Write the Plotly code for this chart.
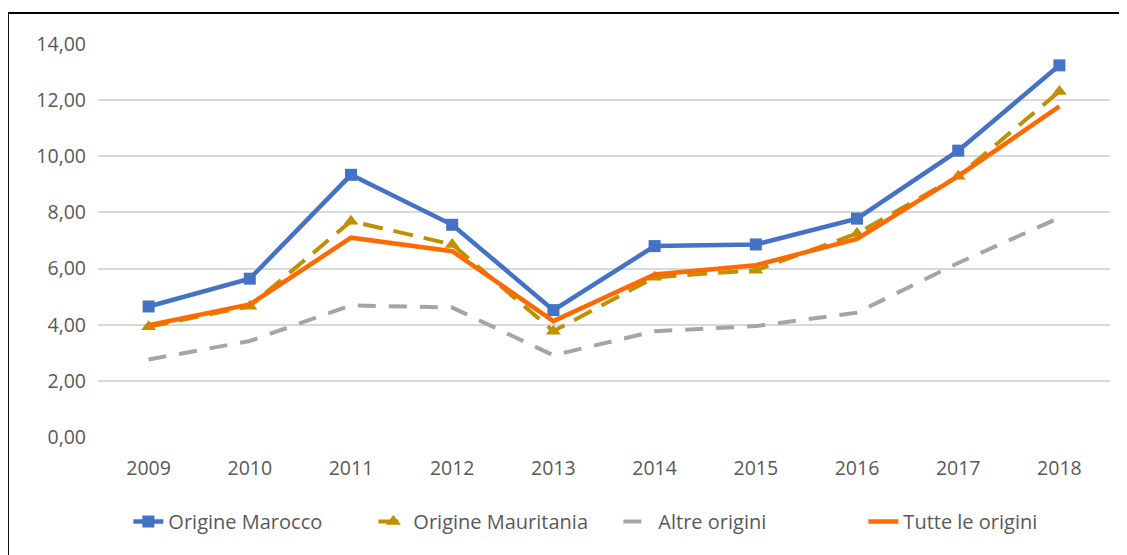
import plotly.graph_objects as go

years = ["2009", "2010", "2011", "2012", "2013", "2014", "2015", "2016", "2017", "2018"]
marocco = [4.65, 5.64, 9.34, 7.56, 4.52, 6.80, 6.86, 7.78, 10.20, 13.24]
mauritania = [3.93, 4.66, 7.69, 6.86, 3.77, 5.69, 5.94, 7.25, 9.29, 12.31]
altre = [2.76, 3.42, 4.69, 4.61, 2.91, 3.77, 3.95, 4.43, 6.20, 7.81]
tutte = [3.98, 4.72, 7.10, 6.62, 4.13, 5.79, 6.12, 7.06, 9.29, 11.78]
y_ticks = [0, 2, 4, 6, 8, 10, 12, 14]
y_tick_labels = ["0,00", "2,00", "4,00", "6,00", "8,00", "10,00", "12,00", "14,00"]

fig = go.Figure()
fig.add_trace(go.Scatter(x=years, y=marocco, name="Origine Marocco", mode="lines+markers",
                         line=dict(color="#4472C4", width=4.5),
                         marker=dict(symbol="square", size=12, color="#4472C4")))
fig.add_trace(go.Scatter(x=years, y=mauritania, name="Origine Mauritania", mode="lines+markers",
                         line=dict(color="#BF9000", width=4, dash="20px,11px"),
                         marker=dict(symbol="triangle-up", size=13, color="#BF9000")))
fig.add_trace(go.Scatter(x=years, y=altre, name="Altre origini", mode="lines",
                         line=dict(color="#A5A5A5", width=4, dash="18px,13px")))
fig.add_trace(go.Scatter(x=years, y=tutte, name="Tutte le origini", mode="lines",
                         line=dict(color="#FF6A00", width=4.5)))

fig.add_shape(type="rect", xref="paper", yref="paper", x0=-0.089, y0=-0.5, x1=1.2, y1=1.079,
              line=dict(color="black", width=2), fillcolor="rgba(0,0,0,0)", layer="above")

fig.update_layout(
    width=1127, height=555,
    margin=dict(l=90, r=25, t=36, b=126, autoexpand=False),
    plot_bgcolor="white", paper_bgcolor="white",
    font=dict(family="Open Sans", size=19, color="#595959"),
    showlegend=True,
    legend=dict(orientation="h", x=0.03, xanchor="left", y=-0.215, yanchor="middle",
                font=dict(size=20, color="#595959"), tracegroupgap=0,
                entrywidth=200, entrywidthmode="pixels"),
    xaxis=dict(type="category", range=[-0.5, 9.5], showgrid=False, showline=False,
               automargin=False,
               ticks="", ticklabelstandoff=17, tickfont=dict(size=19.5, color="#595959")),
    yaxis=dict(range=[0, 14], tickvals=y_ticks, ticktext=y_tick_labels,
               automargin=False,
               showgrid=True, gridcolor="#D9D9D9", gridwidth=1.5, zeroline=False,
               showline=False, ticks="", ticklabelstandoff=11,
               tickfont=dict(size=19.5, color="#595959")),
)

fig.write_html("out.html")
